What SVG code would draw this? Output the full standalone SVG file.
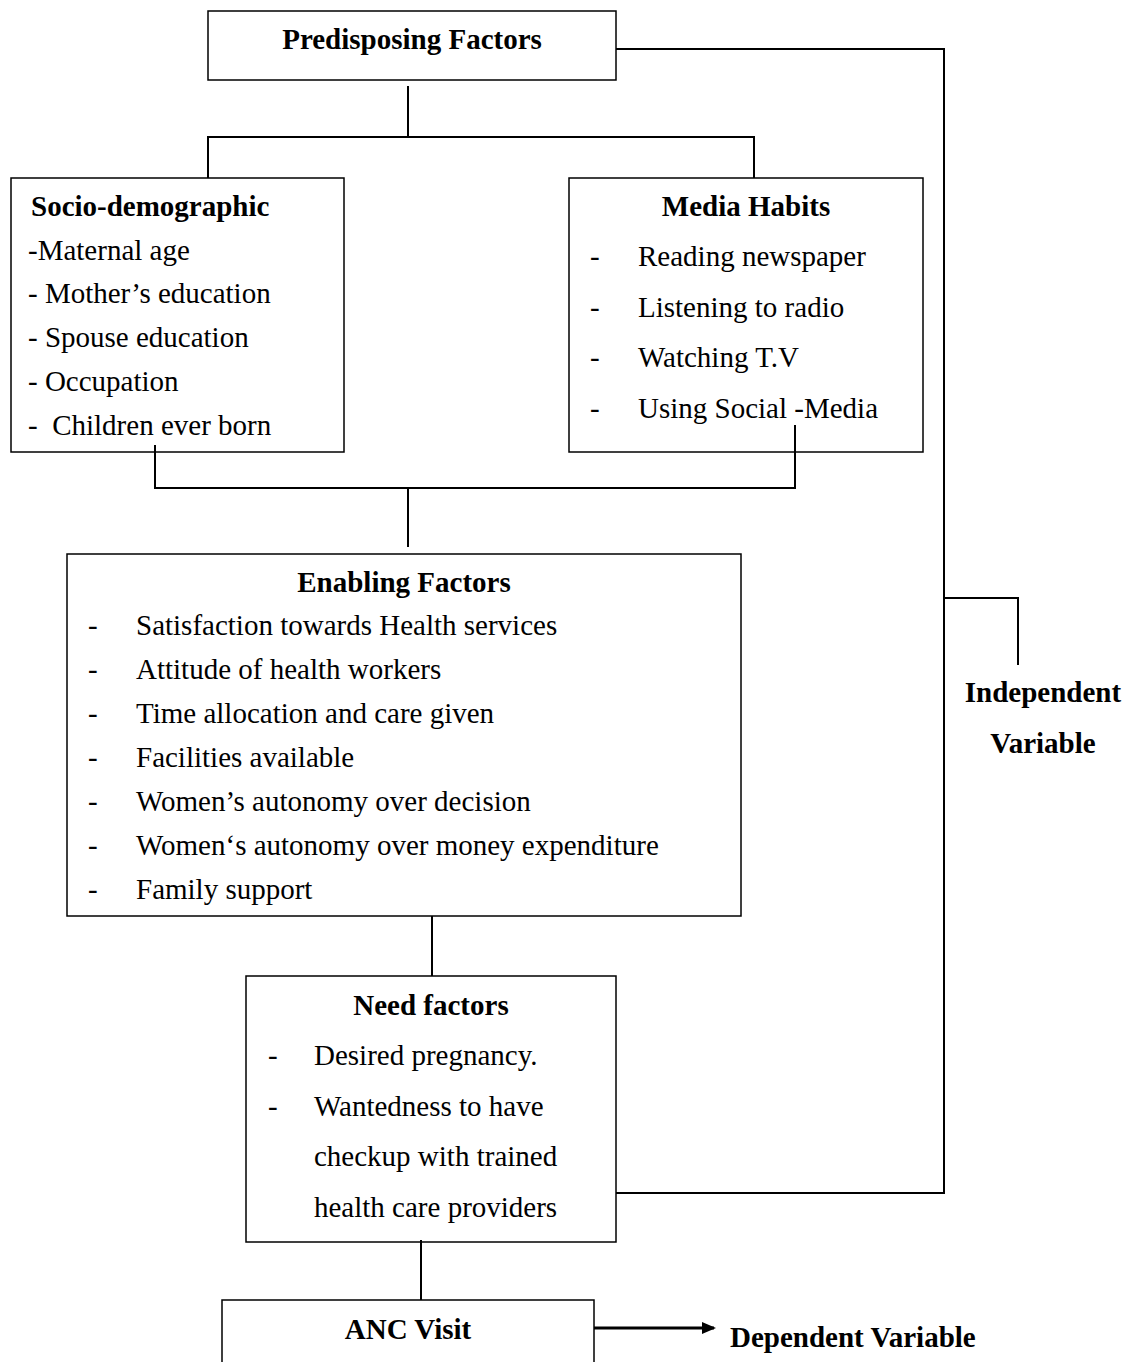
<svg xmlns="http://www.w3.org/2000/svg" width="1133" height="1362" viewBox="0 0 1133 1362">
<style>
text{font-family:"Liberation Serif","Times New Roman",serif;fill:#000;font-size:29px}
.b{font-weight:bold}
.c{text-anchor:middle}
rect{fill:#fff;stroke:#000;stroke-width:1.5}
.ln{fill:none;stroke:#000;stroke-width:2}
</style>
<defs><marker id="ah" markerWidth="14" markerHeight="12" refX="12" refY="6" orient="auto" markerUnits="userSpaceOnUse"><path d="M0,0 L14,6 L0,12 z" fill="#000"/></marker></defs>
<g id="predisposing">
<rect x="208" y="11" width="408" height="69"/>
<text class="b c" x="412" y="49">Predisposing Factors</text>
</g>
<g id="socio">
<rect x="11" y="178" width="333" height="274"/>
<text class="b" x="31" y="216">Socio-demographic</text>
<text x="28" y="260">-Maternal age</text>
<text x="28" y="303">- Mother’s education</text>
<text x="28" y="347">- Spouse education</text>
<text x="28" y="391">- Occupation</text>
<text x="28" y="435" xml:space="preserve">-  Children ever born</text>
</g>
<g id="media">
<rect x="569" y="178" width="354" height="274"/>
<text class="b c" x="746" y="216">Media Habits</text>
<text x="590" y="266">-</text><text x="638" y="266">Reading newspaper</text>
<text x="590" y="317">-</text><text x="638" y="317">Listening to radio</text>
<text x="590" y="367">-</text><text x="638" y="367">Watching T.V</text>
<text x="590" y="418">-</text><text x="638" y="418">Using Social -Media</text>
</g>
<g id="enabling">
<rect x="67" y="554" width="674" height="362"/>
<text class="b c" x="404" y="592">Enabling Factors</text>
<text x="88" y="635">-</text><text x="136" y="635">Satisfaction towards Health services</text>
<text x="88" y="679">-</text><text x="136" y="679">Attitude of health workers</text>
<text x="88" y="723">-</text><text x="136" y="723">Time allocation and care given</text>
<text x="88" y="767">-</text><text x="136" y="767">Facilities available</text>
<text x="88" y="811">-</text><text x="136" y="811">Women’s autonomy over decision</text>
<text x="88" y="855">-</text><text x="136" y="855">Women‘s autonomy over money expenditure</text>
<text x="88" y="899">-</text><text x="136" y="899">Family support</text>
</g>
<g id="need">
<rect x="246" y="976" width="370" height="266"/>
<text class="b c" x="431" y="1015">Need factors</text>
<text x="268" y="1065">-</text><text x="314" y="1065">Desired pregnancy.</text>
<text x="268" y="1116">-</text><text x="314" y="1116">Wantedness to have</text>
<text x="314" y="1166">checkup with trained</text>
<text x="314" y="1217">health care providers</text>
</g>
<g id="anc">
<rect x="222" y="1300" width="372" height="80"/>
<text class="b c" x="408" y="1339">ANC Visit</text>
</g>
<g id="labels">
<text class="b" x="730" y="1347">Dependent Variable</text>
<text class="b c" x="1043" y="702">Independent</text>
<text class="b c" x="1043" y="753">Variable</text>
</g>
<g id="connectors">
<polyline class="ln" points="616,49 944,49 944,1193 616,1193"/>
<polyline class="ln" points="944,598 1018,598 1018,665"/>
<line class="ln" x1="408" y1="86" x2="408" y2="137"/>
<polyline class="ln" points="208,178 208,137 754,137 754,178"/>
<polyline class="ln" points="155,445 155,488 795,488 795,425"/>
<line class="ln" x1="408" y1="488" x2="408" y2="547"/>
<line class="ln" x1="432" y1="916" x2="432" y2="976"/>
<line class="ln" x1="421" y1="1240" x2="421" y2="1300"/>
<line x1="594" y1="1328" x2="714" y2="1328" stroke="#000" stroke-width="3" marker-end="url(#ah)"/>
</g>
</svg>
